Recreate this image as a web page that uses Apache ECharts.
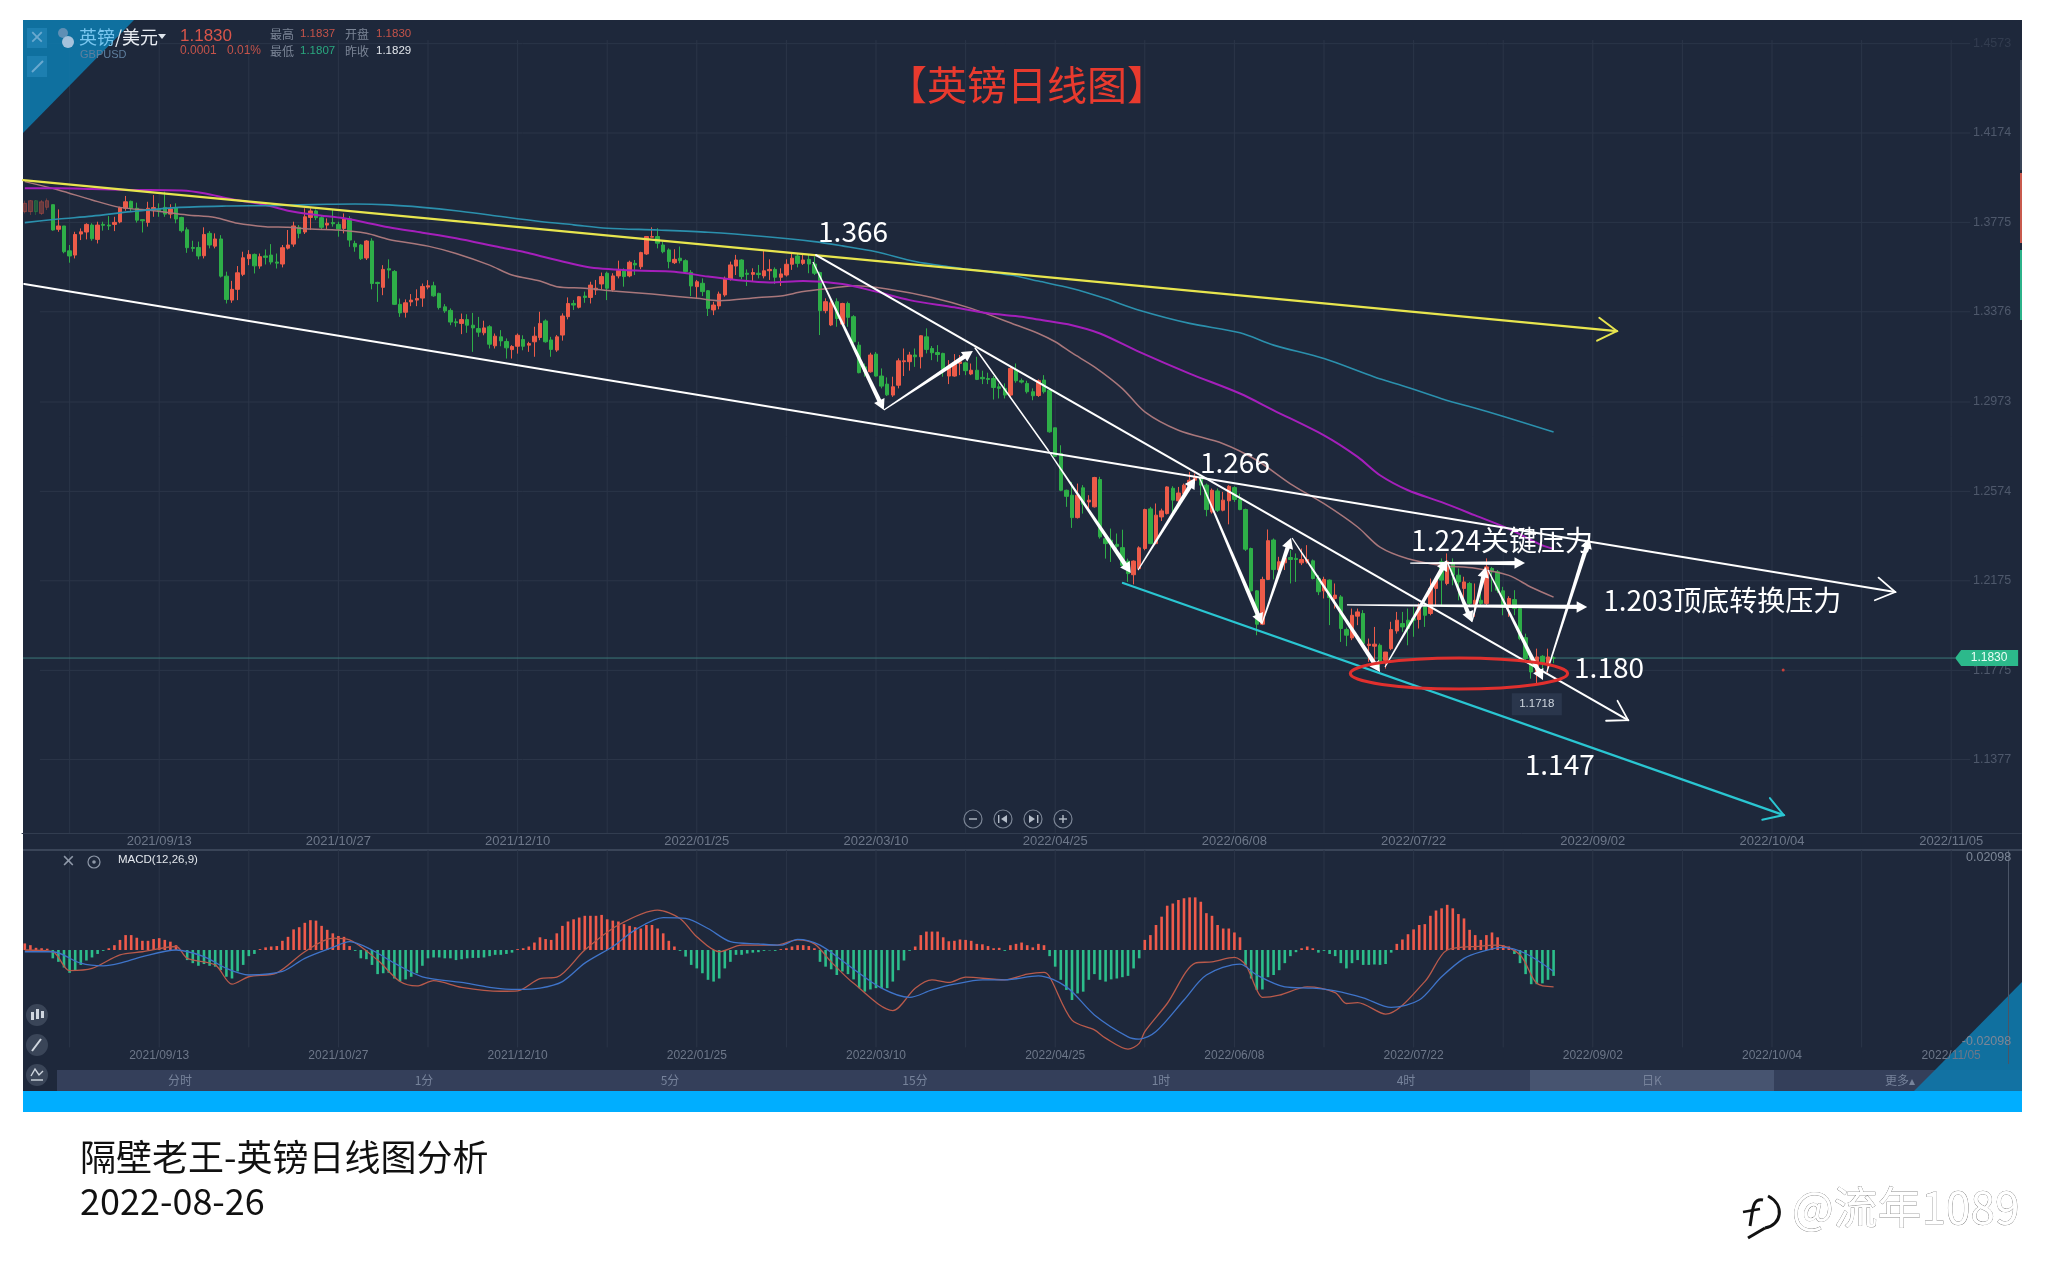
<!DOCTYPE html>
<html><head><meta charset="utf-8">
<style>html,body{margin:0;padding:0;background:#fff}#c{width:2045px;height:1279px}</style>
<script src="https://cdn.jsdelivr.net/npm/echarts@6/dist/echarts.min.js"></script>
</head><body><div id="c"></div>
<script>
// ---------- tick labels ----------
const dateTicks = ['2021/09/13','2021/10/27','2021/12/10','2022/01/25','2022/03/10','2022/04/25','2022/06/08','2022/07/22','2022/09/02','2022/10/04','2022/11/05'];
const priceTicks = [1.4573,1.4174,1.3775,1.3376,1.2973,1.2574,1.2175,1.1775,1.1377];
const macdTicks = [0.02098,-0.02098];
const lastPrice = 1.1830, lowPrice = 1.1718, strayDotPrice = 1.1777;
// ---------- daily candles: [open, close, low, high] ----------
const candleRows = [
[1.3823,1.3860,1.3815,1.3872],[1.3823,1.3872,1.3808,1.3875],[1.3872,1.3823,1.3808,1.3875],[1.3815,1.3867,1.3808,1.3875],[1.3842,1.3872,1.3830,1.3882],
[1.3854,1.3741,1.3738,1.3854],[1.3744,1.3759,1.3733,1.3833],[1.3759,1.3644,1.3637,1.3759],[1.3648,1.3625,1.3595,1.3674],[1.3629,1.3721,1.3614,1.3733],
[1.3723,1.3733,1.3696,1.3748],[1.3732,1.3766,1.3699,1.3771],[1.3763,1.3702,1.3693,1.3771],[1.3699,1.3763,1.3681,1.3778],[1.3766,1.3762,1.3738,1.3778],
[1.3763,1.3759,1.3741,1.3803],[1.3766,1.3775,1.3736,1.3800],[1.3777,1.3841,1.3771,1.3845],[1.3838,1.3867,1.3827,1.3893],[1.3869,1.3838,1.3823,1.3872],
[1.3838,1.3785,1.3774,1.3863],[1.3787,1.3782,1.3730,1.3788],[1.3775,1.3838,1.3756,1.3867],[1.3833,1.3841,1.3800,1.3897],[1.3833,1.3827,1.3800,1.3860],
[1.3842,1.3812,1.3800,1.3912],[1.3812,1.3835,1.3793,1.3856],[1.3841,1.3790,1.3771,1.3860],[1.3797,1.3738,1.3730,1.3800],[1.3742,1.3662,1.3639,1.3753],
[1.3663,1.3659,1.3644,1.3693],[1.3663,1.3625,1.3610,1.3689],[1.3626,1.3721,1.3614,1.3753],[1.3726,1.3674,1.3659,1.3736],[1.3669,1.3701,1.3659,1.3726],
[1.3701,1.3535,1.3529,1.3718],[1.3535,1.3431,1.3413,1.3555],[1.3428,1.3476,1.3416,1.3514],[1.3476,1.3550,1.3428,1.3580],[1.3543,1.3617,1.3535,1.3644],
[1.3613,1.3632,1.3584,1.3651],[1.3632,1.3581,1.3547,1.3636],[1.3580,1.3622,1.3568,1.3636],[1.3625,1.3619,1.3587,1.3654],[1.3629,1.3598,1.3587,1.3678],
[1.3598,1.3593,1.3569,1.3636],[1.3589,1.3662,1.3574,1.3674],[1.3660,1.3674,1.3654,1.3741],[1.3678,1.3759,1.3666,1.3778],[1.3753,1.3726,1.3704,1.3763],
[1.3732,1.3800,1.3723,1.3838],[1.3797,1.3826,1.3741,1.3838],[1.3826,1.3796,1.3785,1.3833],[1.3796,1.3753,1.3741,1.3803],[1.3763,1.3771,1.3741,1.3793],
[1.3774,1.3769,1.3756,1.3833],[1.3766,1.3745,1.3711,1.3778],[1.3748,1.3790,1.3726,1.3815],[1.3791,1.3696,1.3666,1.3803],[1.3681,1.3666,1.3644,1.3693],
[1.3674,1.3613,1.3607,1.3678],[1.3616,1.3692,1.3607,1.3696],[1.3692,1.3502,1.3476,1.3704],[1.3507,1.3502,1.3420,1.3510],[1.3485,1.3565,1.3450,1.3584],
[1.3568,1.3562,1.3525,1.3610],[1.3556,1.3409,1.3406,1.3562],[1.3409,1.3371,1.3353,1.3435],[1.3374,1.3416,1.3350,1.3431],[1.3420,1.3428,1.3401,1.3455],
[1.3428,1.3435,1.3401,1.3476],[1.3437,1.3489,1.3398,1.3502],[1.3486,1.3492,1.3476,1.3517],[1.3492,1.3447,1.3443,1.3510],[1.3458,1.3395,1.3386,1.3461],
[1.3398,1.3380,1.3371,1.3410],[1.3382,1.3330,1.3316,1.3391],[1.3331,1.3327,1.3309,1.3346],[1.3324,1.3341,1.3276,1.3368],[1.3341,1.3316,1.3282,1.3365],
[1.3316,1.3304,1.3197,1.3371],[1.3301,1.3285,1.3264,1.3353],[1.3282,1.3304,1.3271,1.3336],[1.3309,1.3231,1.3212,1.3316],[1.3224,1.3267,1.3212,1.3279],
[1.3264,1.3246,1.3222,1.3294],[1.3243,1.3215,1.3167,1.3257],[1.3207,1.3221,1.3167,1.3227],[1.3222,1.3271,1.3189,1.3279],[1.3252,1.3222,1.3204,1.3271],
[1.3227,1.3234,1.3197,1.3242],[1.3242,1.3267,1.3175,1.3309],[1.3261,1.3324,1.3249,1.3376],
[1.3335,1.3242,1.3238,1.3342],[1.3250,1.3208,1.3175,1.3264],[1.3205,1.3264,1.3197,1.3272],[1.3272,1.3357,1.3247,1.3369],[1.3354,1.3413,1.3342,1.3440],
[1.3413,1.3406,1.3384,1.3428],[1.3396,1.3443,1.3391,1.3446],[1.3446,1.3440,1.3416,1.3466],[1.3440,1.3495,1.3413,1.3510],[1.3473,1.3481,1.3451,1.3518],
[1.3500,1.3533,1.3476,1.3551],[1.3548,1.3481,1.3428,1.3555],[1.3473,1.3536,1.3466,1.3548],[1.3536,1.3560,1.3525,1.3604],[1.3560,1.3533,1.3488,1.3570],
[1.3536,1.3597,1.3530,1.3604],[1.3592,1.3585,1.3540,1.3607],[1.3577,1.3640,1.3566,1.3644],[1.3634,1.3712,1.3630,1.3714],[1.3709,1.3712,1.3709,1.3753],
[1.3712,1.3682,1.3659,1.3749],[1.3674,1.3644,1.3637,1.3689],[1.3652,1.3600,1.3570,1.3659],[1.3595,1.3610,1.3589,1.3655],[1.3615,1.3604,1.3592,1.3667],
[1.3604,1.3555,1.3551,1.3610],[1.3552,1.3491,1.3446,1.3562],[1.3488,1.3510,1.3436,1.3518],[1.3503,1.3466,1.3446,1.3525],[1.3470,1.3391,1.3357,1.3473],
[1.3384,1.3406,1.3361,1.3421],[1.3402,1.3455,1.3387,1.3466],[1.3451,1.3525,1.3443,1.3533],[1.3522,1.3585,1.3515,1.3600],[1.3580,1.3607,1.3540,1.3630],
[1.3607,1.3533,1.3521,1.3610],[1.3548,1.3543,1.3491,1.3565],[1.3543,1.3551,1.3510,1.3570],[1.3548,1.3542,1.3525,1.3585],[1.3536,1.3559,1.3525,1.3652],
[1.3559,1.3565,1.3518,1.3610],[1.3565,1.3530,1.3500,1.3574],[1.3530,1.3545,1.3491,1.3570],[1.3540,1.3588,1.3533,1.3610],[1.3588,1.3615,1.3563,1.3637],
[1.3625,1.3592,1.3574,1.3637],[1.3592,1.3607,1.3585,1.3630],[1.3610,1.3589,1.3548,1.3630],[1.3589,1.3548,1.3540,1.3622],[1.3551,1.3381,1.3272,1.3555],
[1.3381,1.3421,1.3369,1.3436],[1.3317,1.3416,1.3312,1.3431],[1.3421,1.3346,1.3309,1.3436],[1.3321,1.3413,1.3312,1.3416],[1.3413,1.3351,1.3309,1.3421],
[1.3354,1.3242,1.3235,1.3361],[1.3227,1.3104,1.3101,1.3242],[1.3130,1.3108,1.3086,1.3145],[1.3108,1.3183,1.3104,1.3193],[1.3187,1.3089,1.3086,1.3196],
[1.3089,1.3044,1.3034,1.3123],[1.3053,1.3005,1.3000,1.3083],[1.3004,1.3041,1.2996,1.3086],[1.3048,1.3157,1.3034,1.3168],[1.3153,1.3157,1.3089,1.3212],
[1.3153,1.3183,1.3113,1.3197],[1.3183,1.3175,1.3130,1.3212],[1.3175,1.3269,1.3123,1.3272],[1.3264,1.3208,1.3190,1.3302],[1.3212,1.3193,1.3160,1.3223],
[1.3194,1.3185,1.3153,1.3227],[1.3190,1.3118,1.3086,1.3193],[1.3089,1.3130,1.3053,1.3160],[1.3089,1.3145,1.3086,1.3187],[1.3145,1.3153,1.3093,1.3183],
[1.3148,1.3113,1.3093,1.3153],[1.3098,1.3115,1.3093,1.3145],[1.3115,1.3074,1.3071,1.3175],[1.3083,1.3077,1.3053,1.3113],[1.3078,1.3074,1.3053,1.3104],
[1.3078,1.3038,1.2984,1.3089],[1.3041,1.3034,1.2989,1.3056],[1.3034,1.3004,1.2989,1.3056],[1.3004,1.3123,1.2996,1.3130],[1.3115,1.3068,1.3059,1.3145],
[1.3068,1.3062,1.3056,1.3078],[1.3056,1.3019,1.3011,1.3068],[1.3019,1.3001,1.2981,1.3034],[1.3002,1.3068,1.2996,1.3074],[1.3071,1.3019,1.3011,1.3093],
[1.3026,1.2840,1.2836,1.3034],[1.2858,1.2731,1.2727,1.2858],[1.2743,1.2579,1.2575,1.2780],[1.2579,1.2552,1.2505,1.2582],[1.2557,1.2457,1.2411,1.2616],
[1.2457,1.2557,1.2453,1.2609],[1.2590,1.2517,1.2475,1.2602],[1.2527,1.2535,1.2482,1.2557],[1.2505,1.2636,1.2502,1.2639],[1.2627,1.2371,1.2363,1.2639],
[1.2363,1.2341,1.2274,1.2371],[1.2356,1.2341,1.2259,1.2408],[1.2338,1.2329,1.2289,1.2386],[1.2323,1.2244,1.2237,1.2403],[1.2263,1.2207,1.2170,1.2274],
[1.2202,1.2263,1.2159,1.2266],[1.2229,1.2322,1.2222,1.2329],[1.2319,1.2493,1.2311,1.2497],[1.2496,1.2341,1.2338,1.2505],[1.2341,1.2468,1.2338,1.2520],
[1.2460,1.2487,1.2442,1.2497],[1.2475,1.2594,1.2471,1.2597],[1.2588,1.2535,1.2482,1.2597],[1.2532,1.2567,1.2527,1.2594],[1.2564,1.2602,1.2557,1.2609],
[1.2597,1.2624,1.2587,1.2661],[1.2624,1.2639,1.2609,1.2654],[1.2639,1.2602,1.2557,1.2646],[1.2602,1.2493,1.2463,1.2609],[1.2482,1.2579,1.2475,1.2587],
[1.2576,1.2490,1.2482,1.2587],[1.2490,1.2535,1.2485,1.2572],[1.2532,1.2597,1.2427,1.2602],[1.2591,1.2538,1.2527,1.2597],[1.2538,1.2493,1.2490,1.2564],
[1.2493,1.2316,1.2308,1.2497],[1.2319,1.2130,1.2126,1.2323],[1.2130,1.1981,1.1932,1.2133],[1.1981,1.2181,1.1977,1.2193],[1.2181,1.2354,1.2178,1.2404],
[1.2357,1.2225,1.2181,1.2364],[1.2223,1.2260,1.2215,1.2282],[1.2255,1.2275,1.2223,1.2297],[1.2279,1.2270,1.2163,1.2312],[1.2275,1.2270,1.2170,1.2297],
[1.2255,1.2270,1.2245,1.2319],[1.2260,1.2270,1.2252,1.2334],[1.2264,1.2185,1.2181,1.2270],[1.2185,1.2126,1.2111,1.2200],[1.2130,1.2181,1.2096,1.2193],
[1.2178,1.2100,1.1977,1.2181],[1.2096,1.2111,1.2051,1.2163],[1.2103,1.1962,1.1902,1.2111],[1.1957,1.1932,1.1883,1.1966],[1.1920,1.2021,1.1910,1.2051],
[1.2017,1.2036,1.1977,1.2051],[1.2029,1.1895,1.1880,1.2044],[1.1886,1.1892,1.1813,1.1917],[1.1883,1.1892,1.1813,1.1969],[1.1887,1.1813,1.1790,1.1895],
[1.1820,1.1857,1.1783,1.1857],[1.1872,1.1957,1.1865,1.1992],[1.1951,1.1999,1.1939,1.2036],[1.1984,1.1969,1.1947,1.2036],[1.1999,1.1962,1.1887,1.2051],
[1.2006,1.1999,1.1925,1.2059],[1.2002,1.2059,1.1962,1.2074],[1.2059,1.2021,1.1969,1.2081],[1.2029,1.2141,1.2021,1.2185],[1.2141,1.2178,1.2066,1.2193],
[1.2260,1.2178,1.2066,1.2275],[1.2163,1.2260,1.2155,1.2297],[1.2252,1.2200,1.2155,1.2275],[1.2200,1.2170,1.2088,1.2230],[1.2141,1.2170,1.2074,1.2193],
[1.2163,1.2074,1.2066,1.2170],[1.2070,1.2088,1.2014,1.2163],[1.2088,1.2074,1.2066,1.2178],[1.2074,1.2237,1.2066,1.2275],[1.2230,1.2215,1.2126,1.2237],
[1.2215,1.2133,1.2121,1.2223],[1.2130,1.2059,1.2021,1.2148],[1.2066,1.2096,1.2014,1.2106],[1.2091,1.2051,1.2021,1.2133],[1.2051,1.1917,1.1910,1.2059],
[1.1921,1.1828,1.1813,1.1939],[1.1832,1.1768,1.1738,1.1835],[1.1768,1.1835,1.1718,1.1872],[1.1838,1.1805,1.1738,1.1843],[1.1805,1.1835,1.1758,1.1872],
[1.1830,1.1830,1.1807,1.1837]];
// ---------- moving averages: [bar index, price] ----------
const maSlow = [[0,1.3957],[6,1.3920],[12,1.3875],[17,1.3842],[23,1.3827],[29,1.3808],[34,1.3797],[38,1.3771],[43,1.3756],[47,1.3753],[51,1.3745],[56,1.3741],[61,1.3726],[65,1.3699],[72,1.3669],[77,1.3636],[83,1.3584],[87,1.3540],[92,1.3513],[95,1.3488],[100,1.3481],[105,1.3469],[112,1.3455],[120,1.3436],[124,1.3425],[131,1.3440],[135,1.3446],[139,1.3466],[144,1.3481],[148,1.3492],[154,1.3478],[162,1.3440],[169,1.3391],[177,1.3317],[181,1.3279],[184,1.3242],[187,1.3192],[191,1.3130],[196,1.3033],[200,1.2929],[206,1.2847],[214,1.2787],[220,1.2713],[226,1.2608],[232,1.2519],[238,1.2415],[242,1.2325],[247,1.2273],[253,1.2243],[259,1.2231],[265,1.2199],[269,1.2146],[273,1.2102]];
const maPurple = [[0,1.3927],[6,1.3927],[12,1.3924],[19,1.3920],[28,1.3917],[32,1.3905],[37,1.3878],[43,1.3853],[47,1.3827],[52,1.3808],[57,1.3793],[65,1.3753],[71,1.3729],[77,1.3704],[85,1.3663],[89,1.3644],[92,1.3625],[97,1.3595],[101,1.3574],[109,1.3560],[116,1.3555],[122,1.3533],[127,1.3518],[133,1.3507],[139,1.3513],[146,1.3500],[152,1.3466],[158,1.3428],[166,1.3396],[172,1.3369],[178,1.3354],[181,1.3341],[187,1.3316],[192,1.3279],[199,1.3197],[208,1.3100],[217,1.3011],[223,1.2936],[232,1.2824],[238,1.2728],[242,1.2646],[247,1.2579],[253,1.2526],[259,1.2467],[265,1.2407],[271,1.2333],[273,1.2318]];
const maTeal = [[0,1.3774],[6,1.3790],[12,1.3803],[19,1.3823],[27,1.3841],[36,1.3848],[44,1.3850],[54,1.3856],[59,1.3857],[65,1.3853],[71,1.3842],[77,1.3827],[83,1.3808],[92,1.3779],[98,1.3764],[104,1.3749],[113,1.3741],[122,1.3731],[132,1.3712],[141,1.3689],[146,1.3670],[152,1.3644],[159,1.3600],[165,1.3577],[176,1.3540],[181,1.3513],[187,1.3480],[193,1.3435],[199,1.3383],[208,1.3324],[217,1.3282],[223,1.3227],[232,1.3167],[241,1.3085],[247,1.3038],[253,1.2988],[262,1.2924],[273,1.2839]];
// ---------- MACD ----------
const macdHist = [0.0015,0.0011,0.0005,0.0004,0.0003,-0.0019,-0.0027,-0.0040,-0.0052,-0.0046,-0.0034,-0.0024,-0.0017,-0.0009,-0.0002,0.0004,0.0011,0.0023,0.0034,0.0034,0.0028,0.0021,0.0021,0.0025,0.0027,0.0023,0.0019,0.0011,-0.0002,-0.0023,-0.0030,-0.0036,-0.0032,-0.0036,-0.0038,-0.0046,-0.0061,-0.0065,-0.0049,-0.0034,-0.0014,-0.0009,0.0002,0.0006,0.0008,0.0009,0.0021,0.0030,0.0047,0.0052,0.0062,0.0068,0.0067,0.0055,0.0046,0.0038,0.0032,0.0030,0.0009,-0.0002,-0.0019,-0.0021,-0.0034,-0.0055,-0.0053,-0.0052,-0.0065,-0.0072,-0.0067,-0.0061,-0.0053,-0.0036,-0.0019,-0.0017,-0.0017,-0.0019,-0.0019,-0.0023,-0.0021,-0.0019,-0.0018,-0.0018,-0.0017,-0.0014,-0.0011,-0.0011,-0.0009,-0.0006,0.0002,0.0004,0.0008,0.0017,0.0029,0.0025,0.0023,0.0038,0.0055,0.0065,0.0070,0.0074,0.0078,0.0078,0.0078,0.0080,0.0070,0.0067,0.0065,0.0059,0.0055,0.0052,0.0049,0.0057,0.0057,0.0049,0.0038,0.0021,0.0008,-0.0002,-0.0015,-0.0034,-0.0042,-0.0053,-0.0068,-0.0072,-0.0065,-0.0042,-0.0027,-0.0011,-0.0011,-0.0008,-0.0006,-0.0005,-0.0002,-0.0001,-0.0002,0.0002,0.0004,0.0008,0.0011,0.0011,0.0009,0.0004,-0.0027,-0.0038,-0.0044,-0.0057,-0.0049,-0.0055,-0.0067,-0.0087,-0.0095,-0.0090,-0.0087,-0.0087,-0.0087,-0.0072,-0.0046,-0.0024,-0.0002,0.0008,0.0034,0.0042,0.0042,0.0042,0.0029,0.0020,0.0021,0.0024,0.0023,0.0021,0.0014,0.0013,0.0009,0.0004,0.0005,-0.0002,0.0011,0.0014,0.0017,0.0011,0.0006,0.0014,0.0011,-0.0014,-0.0038,-0.0068,-0.0091,-0.0114,-0.0099,-0.0095,-0.0068,-0.0055,-0.0068,-0.0072,-0.0067,-0.0065,-0.0062,-0.0059,-0.0042,-0.0019,0.0023,0.0034,0.0057,0.0076,0.0101,0.0106,0.0114,0.0118,0.0120,0.0120,0.0110,0.0084,0.0078,0.0057,0.0049,0.0049,0.0040,0.0029,-0.0034,-0.0065,-0.0091,-0.0090,-0.0062,-0.0057,-0.0046,-0.0030,-0.0014,-0.0005,0.0004,0.0008,0.0004,-0.0006,-0.0002,-0.0009,-0.0014,-0.0030,-0.0042,-0.0030,-0.0023,-0.0034,-0.0034,-0.0033,-0.0034,-0.0032,-0.0006,0.0014,0.0024,0.0036,0.0047,0.0057,0.0059,0.0078,0.0090,0.0095,0.0103,0.0095,0.0082,0.0072,0.0046,0.0034,0.0023,0.0034,0.0040,0.0029,0.0011,0.0008,-0.0009,-0.0030,-0.0055,-0.0078,-0.0078,-0.0076,-0.0068,-0.0059];
const macdDea = [[0,-0.0004],[5,-0.0004],[10,-0.0030],[14,-0.0036],[17,-0.0030],[21,-0.0015],[27,0],[32,-0.0015],[36,-0.0042],[40,-0.0057],[46,-0.0049],[50,-0.0019],[55,0.0006],[58,0.0019],[62,0],[66,-0.0030],[71,-0.0061],[78,-0.0074],[83,-0.0085],[88,-0.0090],[92,-0.0087],[96,-0.0072],[100,-0.0030],[105,0.0008],[109,0.0046],[114,0.0074],[118,0.0072],[122,0.0049],[126,0.0019],[131,0.0014],[135,0.0011],[138,0.0024],[142,0.0011],[147,-0.0034],[153,-0.0087],[158,-0.0108],[162,-0.0091],[166,-0.0078],[171,-0.0068],[175,-0.0068],[181,-0.0059],[186,-0.0084],[191,-0.0148],[197,-0.0198],[199,-0.0203],[202,-0.0186],[207,-0.0114],[211,-0.0057],[217,-0.0032],[220,-0.0057],[225,-0.0084],[230,-0.0087],[234,-0.0093],[239,-0.0109],[244,-0.0131],[249,-0.0114],[253,-0.0061],[257,-0.0019],[260,-0.0004],[264,0.0006],[268,-0.0008],[273,-0.0049]];
const macdDif = [[0,0],[5,-0.0004],[8,-0.0047],[12,-0.0042],[17,-0.0011],[21,-0.0004],[27,0.0008],[29,-0.0019],[34,-0.0034],[37,-0.0078],[40,-0.0061],[45,-0.0052],[50,-0.0004],[55,0.0027],[58,0.0023],[63,-0.0023],[67,-0.0072],[70,-0.0082],[73,-0.0070],[78,-0.0085],[85,-0.0094],[88,-0.0093],[92,-0.0065],[95,-0.0062],[100,0],[106,0.0057],[113,0.0091],[117,0.0072],[120,0.0030],[124,-0.0004],[128,0.0011],[134,0.0011],[138,0.0023],[141,0.0014],[144,-0.0027],[148,-0.0076],[155,-0.0138],[159,-0.0087],[162,-0.0068],[165,-0.0074],[168,-0.0062],[175,-0.0068],[179,-0.0055],[182,-0.0051],[183,-0.0061],[187,-0.0160],[191,-0.0182],[193,-0.0201],[197,-0.0226],[199,-0.0213],[200,-0.0186],[204,-0.0122],[209,-0.0030],[212,-0.0027],[216,-0.0017],[218,-0.0034],[220,-0.0091],[221,-0.0108],[224,-0.0103],[229,-0.0084],[234,-0.0097],[236,-0.0122],[238,-0.0120],[243,-0.0146],[250,-0.0072],[254,0],[260,0.0009],[263,0.0011],[267,-0.0011],[270,-0.0076],[273,-0.0084]];
// ---------- drawn analysis: [from slot, from price, to slot, to price] ----------
const yellowTrend = [[0.2,1.3964,284.8,1.3290]];
const whiteOpenTrends = [[0.4,1.3500,334.5,1.2125],[141.8,1.3629,286.8,1.1553]];
const cyanTrend = [[196.6,1.2165,314.6,1.1129]];
const whiteThinLeg = [[170.2,1.3214,183.2,1.2759]];
const whiteWaves = [[141.25,1.3598,153.9,1.2937],[153.9,1.2937,169.8,1.3201],[183.2,1.2759,198.0,1.2210],[199.3,1.2223,209.5,1.2634],[210.2,1.2638,221.4,1.1982],[221.4,1.1982,226.6,1.2366],[226.8,1.2366,242.5,1.1768],[243.4,1.1790,254.5,1.2268],[254.6,1.2254,258.9,1.1991],[258.9,1.1991,261.4,1.2237],[261.8,1.2223,271.6,1.1732],[272.3,1.1768,279.9,1.2366],[247.9,1.2254,268.4,1.2254],[236.6,1.2067,279.5,1.2058]];
const supportRing = [237.2,1.1830,276.0,1.1692];
const noteTexts = ['1.366','1.266','1.224关键压力','1.203顶底转换压力','1.180','1.147'];
const noteSlots = [148.4,216.6,264.3,303.6,283.4,274.6];
const notePrices = [1.3736,1.2705,1.2357,1.2089,1.1790,1.1357];
// ---------- axis layout ----------
const SLOTS = 357, FIRST_DATE_SLOT = 24, DATE_STEP = 32, FIRST_GRID_SLOT = 8, GRID_STEP = 16;
const xNames = Array.from({length:SLOTS},(_, i)=>{const k=(i-FIRST_DATE_SLOT)/DATE_STEP;return Number.isInteger(k)&&dateTicks[k]?dateTicks[k]:'';});
const gridCols = [];for(let s=FIRST_GRID_SLOT;s<SLOTS;s+=GRID_STEP)gridCols.push(s+0.5);
const dateShow = i=>(i-FIRST_DATE_SLOT)%DATE_STEP===0;
const UP='#ec5b49', DOWN='#2eae48', HUP='#f05a4b', HDOWN='#2cbd8b', BG='#1e283b', GRID='#2b3548', LAB='#6d7789', CJK='"Noto Sans CJK SC","Noto Sans",sans-serif', LAT='"Liberation Sans",Arial,sans-serif';

function seg(rows,color,width,head){
  return {type:'custom',xAxisIndex:2,yAxisIndex:0,z:6,silent:true,clip:false,data:rows,animation:false,
    renderItem(p,api){
      const r=rows[p.dataIndex],a=api.coord([r[0],r[1]]),b=api.coord([r[2],r[3]]);
      const t=Math.atan2(b[1]-a[1],b[0]-a[0]);
      const tip=(len,ang)=>[b[0]-len*Math.cos(t+ang),b[1]-len*Math.sin(t+ang)];
      const kids=[];
      if(head==='taper'){
        const nx=-Math.sin(t),ny=Math.cos(t),n0=0.6,n1=width/2,m=tip(8,0);
        kids.push({type:'polygon',shape:{points:[[a[0]+nx*n0,a[1]+ny*n0],[m[0]+nx*n1,m[1]+ny*n1],[m[0]-nx*n1,m[1]-ny*n1],[a[0]-nx*n0,a[1]-ny*n0]]},style:{fill:color}});
        kids.push({type:'polygon',shape:{points:[b,tip(12,0.5),tip(12,-0.5)]},style:{fill:color}});
      } else {
        kids.push({type:'line',shape:{x1:a[0],y1:a[1],x2:b[0],y2:b[1]},style:{stroke:color,lineWidth:width,lineCap:'round'}});
        if(head==='open')kids.push({type:'polyline',shape:{points:[tip(22,0.55),b,tip(22,-0.55)]},style:{stroke:color,lineWidth:width*0.85,fill:null,lineCap:'round'}});
      }
      return {type:'group',children:kids};
    }};
}
const T=(txt,x,y,size,color,font)=>({type:'text',z:120,silent:true,style:{text:txt,x,y,fontSize:size,fill:color,fontFamily:font||LAT,textAlign:'left',textVerticalAlign:'middle'}});
const tabs=[['分时',180],['1分',424],['5分',670],['15分',915],['1时',1161],['4时',1406],['日K',1652],['更多▴',1900]];
const chrome=[
 {type:'rect',z:-20,silent:true,shape:{x:23,y:20,width:1999,height:1071},style:{fill:BG}},
 {type:'polygon',z:-19,silent:true,shape:{points:[[2022,982],[2022,1070],[1935,1070]]},style:{fill:'#10709f'}},
 {type:'rect',z:-18,silent:true,shape:{x:23,y:849,width:1999,height:2},style:{fill:'#3a4558'}},
 {type:'rect',z:-18,silent:true,shape:{x:2008,y:850,width:1,height:214},style:{fill:'#4a5466'}},
 {type:'rect',z:110,silent:true,shape:{x:23,y:1091,width:1999,height:21},style:{fill:'#00aeff'}},
 {type:'rect',z:110,silent:true,shape:{x:57,y:1070,width:1965,height:21},style:{fill:'#343f5a'}},
 {type:'rect',z:111,silent:true,shape:{x:1530,y:1070,width:244,height:21},style:{fill:'#475470'}},
 {type:'rect',z:110,silent:true,shape:{x:2020,y:60,width:2,height:110},style:{fill:'#3a4558'}},
 {type:'rect',z:110,silent:true,shape:{x:2020,y:173,width:2,height:70},style:{fill:'#c85a4e'}},
 {type:'rect',z:110,silent:true,shape:{x:2020,y:250,width:2,height:70},style:{fill:'#2cb28a'}},
 // corner triangles
 {type:'polygon',z:112,silent:true,shape:{points:[[23,20],[134,20],[23,133]]},style:{fill:'rgba(14,122,173,0.88)'}},
 {type:'polygon',z:112,silent:true,shape:{points:[[2022,1070],[2022,1091],[1914,1091],[1935,1070]]},style:{fill:'rgba(14,122,173,0.88)'}},
 // header
 {type:'rect',z:113,silent:true,shape:{x:27,y:28,width:20,height:20},style:{fill:'#1d7fb0'}},
 {type:'rect',z:113,silent:true,shape:{x:27,y:56,width:20,height:21},style:{fill:'#1d7fb0'}},
 T('×',30,38,24,'#6aa9cf'),
 {type:'line',z:114,silent:true,shape:{x1:32,y1:72,x2:43,y2:61},style:{stroke:'#6aa9cf',lineWidth:2}},
 {type:'circle',z:114,silent:true,shape:{cx:63,cy:33,r:5},style:{fill:'#5f8fb5'}},
 {type:'circle',z:114,silent:true,shape:{cx:68,cy:42,r:6},style:{fill:'#a6c2dc'}},
 T('英镑',79,37,18,'#79c6ef',CJK),
 T('/美元',115,37,18,'#e8ecf2',CJK),
 {type:'polygon',z:120,silent:true,shape:{points:[[158,34],[166,34],[162,39]]},style:{fill:'#dfe5ec'}},
 T('GBPUSD',80,55,11,'#5f7f9f'),
 T('1.1830',180,36,17,'#d9554a'),
 T('0.0001',180,51,12,'#c4534a'),T('0.01%',227,51,12,'#c4534a'),
 T('最高',270,34,12,'#7b8596',CJK),T('最低',270,51,12,'#7b8596',CJK),T('开盘',345,34,12,'#7b8596',CJK),T('昨收',345,51,12,'#7b8596',CJK),
 T('1.1837',300,34,11.5,'#c4534a'),T('1.1807',300,51,11.5,'#2aa87f'),T('1.1830',376,34,11.5,'#c4534a'),T('1.1829',376,51,11.5,'#e2e6ec'),
 // MACD header
 T('×',62,862,22,'#8e98a8'),
 {type:'circle',z:114,silent:true,shape:{cx:94,cy:862,r:6},style:{fill:null,stroke:'#8e98a8',lineWidth:1.2}},
 {type:'circle',z:114,silent:true,shape:{cx:94,cy:862,r:1.8},style:{fill:'#8e98a8'}},
 T('MACD(12,26,9)',118,860,11.5,'#e4e8ee'),
 // left toolbar
 {type:'circle',z:113,silent:true,shape:{cx:37,cy:1015,r:11},style:{fill:'#3a4558'}},
 {type:'circle',z:113,silent:true,shape:{cx:37,cy:1045,r:11},style:{fill:'#3a4558'}},
 {type:'circle',z:113,silent:true,shape:{cx:37,cy:1075,r:11},style:{fill:'#3a4558'}},
 {type:'rect',z:114,silent:true,shape:{x:31,y:1012,width:3,height:8},style:{fill:'#cfd6df'}},
 {type:'rect',z:114,silent:true,shape:{x:36,y:1009,width:3,height:10},style:{fill:'#cfd6df'}},
 {type:'rect',z:114,silent:true,shape:{x:41,y:1011,width:3,height:7},style:{fill:'#cfd6df'}},
 {type:'line',z:114,silent:true,shape:{x1:32,y1:1051,x2:41,y2:1039},style:{stroke:'#cfd6df',lineWidth:2}},
 {type:'polyline',z:114,silent:true,shape:{points:[[31,1076],[35,1069],[39,1075],[43,1071]]},style:{stroke:'#cfd6df',lineWidth:1.4,fill:null}},
 {type:'line',z:114,silent:true,shape:{x1:31,y1:1080,x2:43,y2:1080},style:{stroke:'#cfd6df',lineWidth:1.4}},
 // zoom controls
 ...[973,1003,1033,1063].map(cx=>({type:'circle',z:114,silent:true,shape:{cx,cy:819,r:9},style:{fill:null,stroke:'#7a8494',lineWidth:1.2}})),
 {type:'line',z:114,silent:true,shape:{x1:969,y1:819,x2:977,y2:819},style:{stroke:'#b4bcc8',lineWidth:1.4}},
 {type:'polygon',z:114,silent:true,shape:{points:[[1007,815],[1007,823],[1001,819]]},style:{fill:'#b4bcc8'}},
 {type:'rect',z:114,silent:true,shape:{x:998,y:815,width:1.4,height:8},style:{fill:'#b4bcc8'}},
 {type:'polygon',z:114,silent:true,shape:{points:[[1029,815],[1029,823],[1035,819]]},style:{fill:'#b4bcc8'}},
 {type:'rect',z:114,silent:true,shape:{x:1037,y:815,width:1.4,height:8},style:{fill:'#b4bcc8'}},
 {type:'line',z:114,silent:true,shape:{x1:1059,y1:819,x2:1067,y2:819},style:{stroke:'#b4bcc8',lineWidth:1.4}},
 {type:'line',z:114,silent:true,shape:{x1:1063,y1:815,x2:1063,y2:823},style:{stroke:'#b4bcc8',lineWidth:1.4}},
 // tabs
 ...tabs.map(t=>({type:'text',z:120,silent:true,style:{text:t[0],x:t[1],y:1080,fontSize:12,fill:'#77839b',fontFamily:CJK,textAlign:'center',textVerticalAlign:'middle'}})),
 // caption
 T('隔壁老王-英镑日线图分析',80,1157,36,'#111',CJK),
 T('2022-08-26',80,1201,36,'#111',CJK),
 // watermark
 {type:'text',z:120,silent:true,style:{text:'@流年1089',x:1792,y:1207,fontSize:44,fill:'#fff',stroke:'#555',lineWidth:0.5,fontFamily:CJK,textAlign:'left',textVerticalAlign:'middle'}},
 {type:'bezierCurve',z:120,silent:true,shape:{x1:1768,y1:1196,cpx1:1785,cpy1:1205,cpx2:1782,cpy2:1225,x2:1765,y2:1228},style:{fill:null,stroke:'#111',lineWidth:3}},
 {type:'line',z:120,silent:true,shape:{x1:1765,y1:1228,x2:1748,y2:1238},style:{stroke:'#111',lineWidth:3}},
 {type:'bezierCurve',z:120,silent:true,shape:{x1:1763,y1:1200,cpx1:1752,cpy1:1198,cpx2:1753,cpy2:1210,x2:1750,y2:1226},style:{fill:null,stroke:'#111',lineWidth:3}},
 {type:'line',z:120,silent:true,shape:{x1:1743,y1:1212,x2:1760,y2:1209},style:{stroke:'#111',lineWidth:2.5}}
];
function ringItem(p,api){
  const a=api.coord([supportRing[0],supportRing[1]]),b=api.coord([supportRing[2],supportRing[3]]);
  return {type:'ellipse',shape:{cx:(a[0]+b[0])/2,cy:(a[1]+b[1])/2,rx:(b[0]-a[0])/2,ry:(b[1]-a[1])/2},style:{fill:null,stroke:'#e1302e',lineWidth:3}};
}
const option={
 animation:false,backgroundColor:'#ffffff',
 title:{text:'【英镑日线图】',left:1022,top:60,textAlign:'center',textStyle:{color:'#e83a2e',fontSize:40,fontWeight:'normal',fontFamily:CJK}},
 grid:[{left:22,top:20,width:1999.2,height:813},{left:22,top:850,width:1999.2,height:200}],
 xAxis:[
  {type:'category',gridIndex:0,data:xNames,axisLine:{onZero:false,lineStyle:{color:'#323d50'}},axisTick:{show:false},splitLine:{show:false},
   axisLabel:{interval:dateShow,margin:2,fontSize:13,color:LAB,fontFamily:LAT}},
  {type:'category',gridIndex:1,data:xNames,axisLine:{onZero:false,show:false},axisTick:{show:false},splitLine:{show:false},
   axisLabel:{interval:dateShow,margin:0,fontSize:12,color:LAB,fontFamily:LAT}},
  {type:'value',gridIndex:0,min:0,max:SLOTS,show:false},
  {type:'value',gridIndex:1,min:0,max:SLOTS,show:false}
 ],
 yAxis:[
  {type:'value',gridIndex:0,position:'right',min:1.1049,max:1.46785,splitLine:{show:false},axisLine:{show:false},axisTick:{show:false},
   axisLabel:{inside:true,margin:10,fontSize:12.5,fontFamily:LAT,customValues:priceTicks,formatter:v=>v.toFixed(4),color:v=>v>1.45?'#323c4f':'#4e586b'}},
  {type:'value',gridIndex:1,position:'right',min:-0.0228,max:0.0228,splitLine:{show:false},axisLine:{show:false},axisTick:{show:false},
   axisLabel:{inside:true,margin:10,fontSize:12.5,fontFamily:LAT,color:'#7d8797',customValues:macdTicks,formatter:v=>v.toFixed(5)}}
 ],
 graphic:{elements:chrome},
 series:[
  {type:'custom',name:'grid rows',xAxisIndex:2,yAxisIndex:0,z:1,silent:true,data:priceTicks.map(p=>[p]),
   renderItem(p,api){const a=api.coord([3.2,api.value(0)]),b=api.coord([347.9,api.value(0)]);return {type:'line',shape:{x1:a[0],y1:a[1],x2:b[0],y2:b[1]},style:{stroke:GRID,lineWidth:1}};}},
  {type:'custom',name:'grid cols',xAxisIndex:2,yAxisIndex:0,z:1,silent:true,data:gridCols.map(s=>[s]),
   renderItem(p,api){const a=api.coord([api.value(0),1.4589]),b=api.coord([api.value(0),1.1049]);return {type:'line',shape:{x1:a[0],y1:a[1],x2:b[0],y2:b[1]},style:{stroke:GRID,lineWidth:1}};}},
  {type:'custom',name:'macd cols',xAxisIndex:3,yAxisIndex:1,z:1,silent:true,data:gridCols.map(s=>[s]),
   renderItem(p,api){const a=api.coord([api.value(0),0.0228]),b=api.coord([api.value(0),-0.0222]);return {type:'line',shape:{x1:a[0],y1:a[1],x2:b[0],y2:b[1]},style:{stroke:GRID,lineWidth:1}};}},
  {type:'custom',name:'last price',xAxisIndex:2,yAxisIndex:0,z:2,silent:true,data:[[lastPrice]],
   renderItem(p,api){const a=api.coord([0,lastPrice]),b=api.coord([345.2,lastPrice]),h=8;
     return {type:'group',children:[
      {type:'line',shape:{x1:a[0]+1,y1:a[1],x2:b[0],y2:b[1]},style:{stroke:'#3b7878',lineWidth:1}},
      {type:'polygon',z2:5,shape:{points:[[b[0],b[1]],[b[0]+6,b[1]-h],[b[0]+63,b[1]-h],[b[0]+63,b[1]+h],[b[0]+6,b[1]+h]]},style:{fill:'#2cb98b'}},
      {type:'text',z2:6,style:{text:lastPrice.toFixed(4),x:b[0]+34,y:b[1],fill:'#eafff6',fontSize:12,fontFamily:LAT,align:'center',verticalAlign:'middle'}}
     ]};}},
  {type:'candlestick',name:'GBPUSD',xAxisIndex:0,yAxisIndex:0,z:3,barWidth:4,silent:true,
   data:candleRows.map((r,i)=>i<5?{value:r,itemStyle:{opacity:0.35}}:r),
   itemStyle:{color:UP,color0:DOWN,borderColor:UP,borderColor0:DOWN,borderWidth:1}},
  {type:'line',name:'MA slow',xAxisIndex:2,yAxisIndex:0,z:4,silent:true,showSymbol:false,smooth:0.3,data:maSlow.map(d=>[d[0]+0.5,d[1]]),lineStyle:{color:'#a9777b',width:1.5}},
  {type:'line',name:'MA purple',xAxisIndex:2,yAxisIndex:0,z:4,silent:true,showSymbol:false,smooth:0.3,data:maPurple.map(d=>[d[0]+0.5,d[1]]),lineStyle:{color:'#a51fbb',width:2}},
  {type:'line',name:'MA teal',xAxisIndex:2,yAxisIndex:0,z:4,silent:true,showSymbol:false,smooth:0.3,data:maTeal.map(d=>[d[0]+0.5,d[1]]),lineStyle:{color:'#2b90ad',width:1.6}},
  {type:'bar',name:'MACD',xAxisIndex:1,yAxisIndex:1,z:3,silent:true,barWidth:2.6,data:macdHist,itemStyle:{color:p=>p.value>=0?HUP:HDOWN}},
  {type:'line',name:'DIF',xAxisIndex:3,yAxisIndex:1,z:4,silent:true,showSymbol:false,smooth:0.3,data:macdDif.map(d=>[d[0]+0.5,d[1]]),lineStyle:{color:'#b95a4b',width:1.3}},
  {type:'line',name:'DEA',xAxisIndex:3,yAxisIndex:1,z:4,silent:true,showSymbol:false,smooth:0.3,data:macdDea.map(d=>[d[0]+0.5,d[1]]),lineStyle:{color:'#3f74c9',width:1.3}},
  seg(yellowTrend,'#e8e54e',2.3,'open'),
  seg(whiteOpenTrends,'#ffffff',2.1,'open'),
  seg(cyanTrend,'#2ac6d2',2.3,'open'),
  seg(whiteThinLeg,'#ffffff',1.5,null),
  seg(whiteWaves,'#ffffff',4.4,'taper'),
  {type:'custom',name:'support ring',xAxisIndex:2,yAxisIndex:0,z:7,silent:true,data:[[0]],renderItem:ringItem},
  {type:'custom',name:'low tag',xAxisIndex:2,yAxisIndex:0,z:7,silent:true,data:[[270.5,lowPrice]],
   renderItem(p,api){const c=api.coord([270.5,lowPrice]);
    return {type:'group',children:[
     {type:'rect',shape:{x:c[0]-25,y:c[1]+10,width:50,height:22},style:{fill:'#2a364c'}},
     {type:'text',style:{text:lowPrice.toFixed(4),x:c[0],y:c[1]+21,fill:'#cfd6df',fontSize:11.5,fontFamily:LAT,align:'center',verticalAlign:'middle'}}
    ]};}},
  {type:'custom',name:'stray dot',xAxisIndex:2,yAxisIndex:0,z:7,silent:true,data:[[314.5,strayDotPrice]],
   renderItem(p,api){const c=api.coord([api.value(0),api.value(1)]);return {type:'circle',shape:{cx:c[0],cy:c[1],r:1.5},style:{fill:'#c8403a'}};}},
  {type:'custom',name:'notes',xAxisIndex:2,yAxisIndex:0,z:8,silent:true,data:noteTexts.map((t,i)=>[noteSlots[i],notePrices[i]]),
   renderItem(p,api){const c=api.coord([api.value(0),api.value(1)]);return {type:'text',style:{text:noteTexts[p.dataIndex],x:c[0],y:c[1],fill:'#ffffff',fontSize:28,fontFamily:CJK,align:'center',verticalAlign:'middle'}};}}
 ]
};
const chart=echarts.init(document.getElementById('c'),null,{renderer:'canvas',width:2045,height:1279});
chart.setOption(option);
</script></body></html>
